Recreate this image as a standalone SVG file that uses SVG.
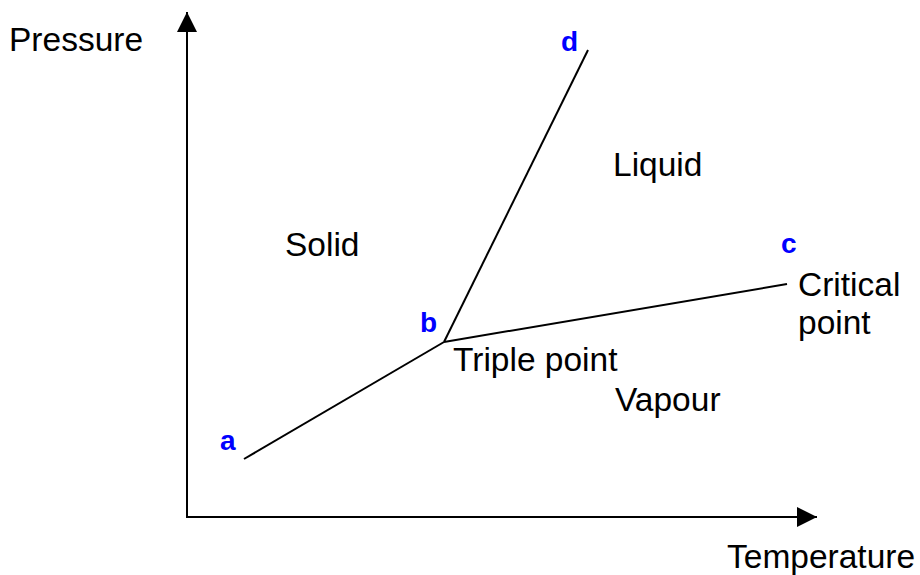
<svg xmlns="http://www.w3.org/2000/svg" width="920" height="575" viewBox="0 0 920 575">
<style>
.t{font-family:"Liberation Sans",Arial,sans-serif;font-size:33.5px;fill:#000}
.l{font-family:"Liberation Sans",Arial,sans-serif;font-size:28px;font-weight:bold;fill:#0000ff}
.ln{stroke:#000;stroke-width:2;fill:none}
</style>
<defs>
<marker id="ah" viewBox="0 0 20 20" refX="20" refY="10" markerWidth="20" markerHeight="20" markerUnits="userSpaceOnUse" orient="auto">
<path d="M0,0 L20,10 L0,20 Z" fill="#000"/>
</marker>
</defs>
<rect width="920" height="575" fill="#fff"/>
<g id="axes">
<line class="ln" x1="187" y1="518" x2="187" y2="12" stroke-width="3" marker-end="url(#ah)"/>
<line class="ln" x1="186" y1="517" x2="817" y2="517" stroke-width="3" marker-end="url(#ah)"/>
<text class="t" x="9" y="51">Pressure</text>
<text class="t" x="727" y="568">Temperature</text>
</g>
<g id="connectors">
<line class="ln" x1="244" y1="459" x2="444" y2="342"/>
<line class="ln" x1="444" y1="342" x2="588" y2="50"/>
<line class="ln" x1="444" y1="342" x2="787" y2="284"/>
</g>
<g id="node-a"><text class="l" x="220" y="450">a</text></g>
<g id="node-b"><text class="l" x="420" y="332">b</text></g>
<g id="node-c"><text class="l" x="781" y="253">c</text></g>
<g id="node-d"><text class="l" x="561" y="51">d</text></g>
<g id="regions">
<text class="t" x="285" y="256">Solid</text>
<text class="t" x="613" y="176">Liquid</text>
<text class="t" x="615" y="411">Vapour</text>
<text class="t" x="453" y="371">Triple point</text>
<text class="t" x="798" y="296">Critical</text>
<text class="t" x="798" y="334">point</text>
</g>
</svg>
